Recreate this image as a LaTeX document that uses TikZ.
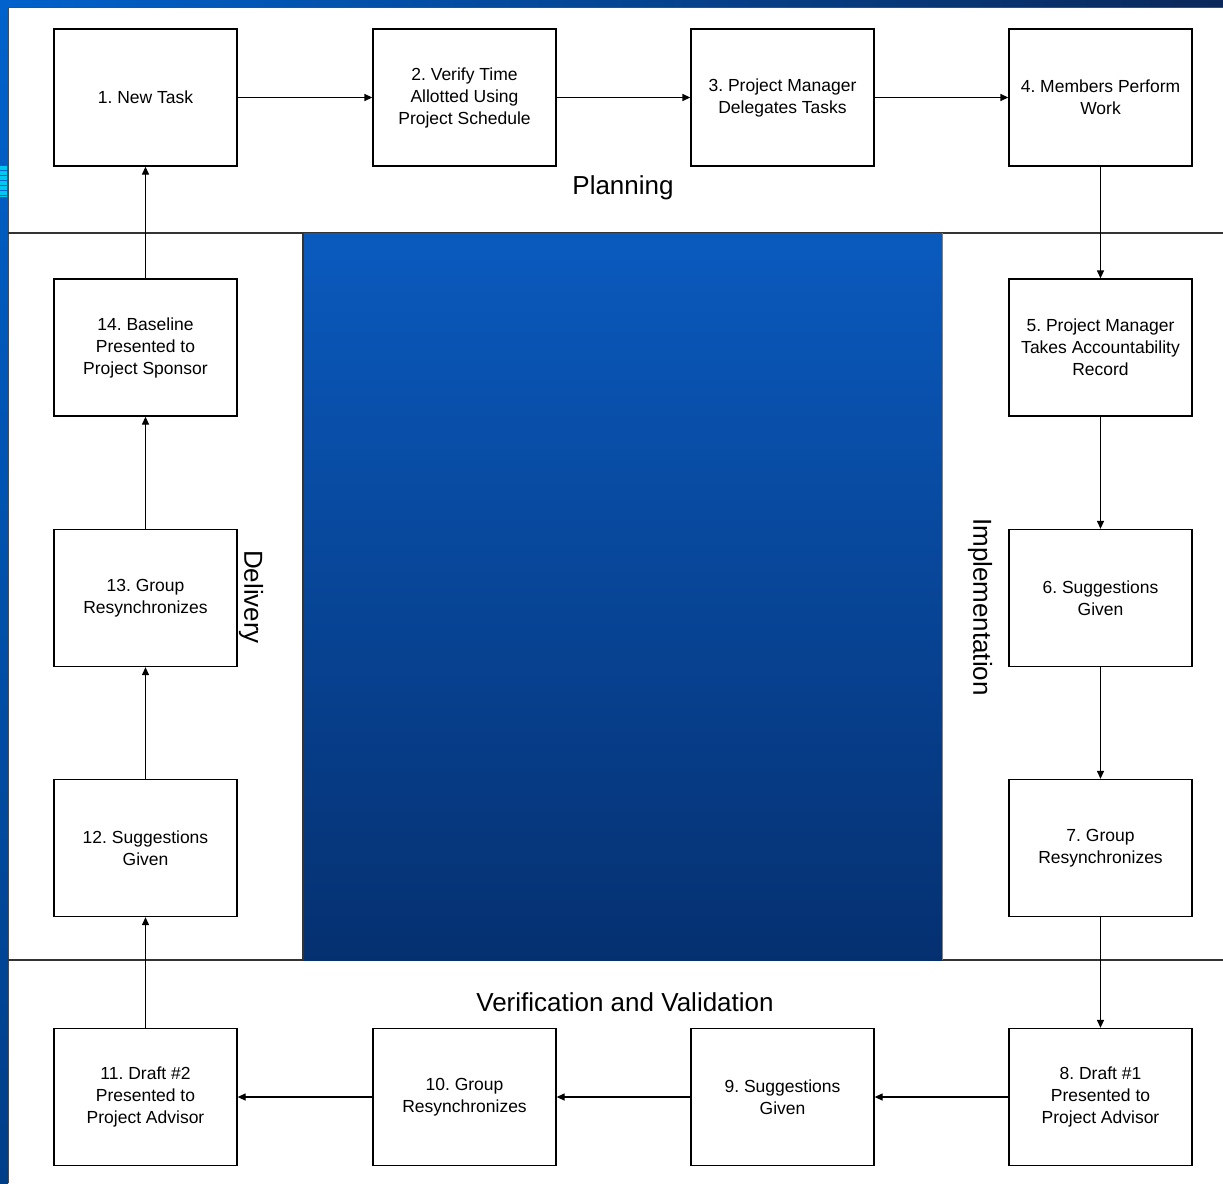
\documentclass[tikz,border=0pt]{standalone}
\usepackage{fontspec}
\setmainfont{Liberation Sans}
\usetikzlibrary{arrows.meta}
\frenchspacing
\definecolor{bluetop}{RGB}{0,98,204}
\definecolor{bluebot}{RGB}{0,62,136}
\definecolor{navy}{RGB}{10,40,90}
\definecolor{ctop}{RGB}{10,90,190}
\definecolor{cbot}{RGB}{5,48,112}
\definecolor{cyanstripe}{RGB}{0,200,240}
\tikzset{
  stepbox/.style={draw=black, line width=1.3pt, fill=white, minimum width=183pt, minimum height=137pt,
    align=center, font=\fontsize{17.5}{22}\selectfont, inner sep=0pt},
  flow/.style={draw=black, line width=1.3pt, -{Triangle[length=8pt,width=7pt]}},
  band/.style={font=\fontsize{26}{30}\selectfont}
}
\begin{document}
\begin{tikzpicture}[x=1pt,y=-1pt]
\useasboundingbox (0,0) rectangle (1223,1183);
% background
\shade[left color=bluetop, right color=navy] (0,0) rectangle (1223,8);
\shade[top color=bluetop, bottom color=bluebot] (0,0) rectangle (8,1183);
\fill[cyanstripe] (0,166) rectangle (7,197);
\foreach \yy in {170,175,180,185,190,195} \draw[bluetop, line width=1pt] (0,\yy) -- (7,\yy);
% white frame
\fill[white] (8,7) rectangle (1223,1183);
\draw[gray!60!black, line width=1.5pt] (8.5,1183) -- (8.5,7.5) -- (1223,7.5);
% band dividers
\draw[gray!40!black, line width=1.5pt] (8,233) -- (1223,233);
\draw[gray!40!black, line width=1.5pt] (8,960) -- (1223,960);
% center panel
\shade[top color=ctop, bottom color=cbot] (303,233) rectangle (942,960);
\draw[black!80, line width=1.2pt] (303,233) -- (303,960);
\draw[gray, line width=1pt] (942,233) -- (942,960);
% boxes
\node[stepbox] (n1) at (145.5,97.5) {1. New Task};
\node[stepbox] (n2) at (464.5,97.5) {2. Verify Time\\Allotted Using\\Project Schedule};
\node[stepbox] (n3) at (782.5,97.5) {3. Project Manager\\Delegates Tasks};
\node[stepbox] (n4) at (1100.5,97.5) {4. Members Perform\\Work};
\node[stepbox] (n5) at (1100.5,347.5) {5. Project Manager\\Takes Accountability\\Record};
\node[stepbox] (n6) at (1100.5,598) {6. Suggestions\\Given};
\node[stepbox] (n7) at (1100.5,848) {7. Group\\Resynchronizes};
\node[stepbox] (n8) at (1100.5,1097) {8. Draft \#1\\Presented to\\Project Advisor};
\node[stepbox] (n9) at (782.5,1097) {9. Suggestions\\Given};
\node[stepbox] (n10) at (464.5,1097) {10. Group\\Resynchronizes};
\node[stepbox] (n11) at (145.5,1097) {11. Draft \#2\\Presented to\\Project Advisor};
\node[stepbox] (n12) at (145.5,848) {12. Suggestions\\Given};
\node[stepbox] (n13) at (145.5,598) {13. Group\\Resynchronizes};
\node[stepbox] (n14) at (145.5,347.5) {14. Baseline\\Presented to\\Project Sponsor};
% band labels
\node[band] (lplan) at (623,188) {Planning};
\node[band] (lver) at (625,1002) {Verification and Validation};
\node[band, rotate=-90] (ldel) at (251,597) {Delivery};
\node[band, rotate=-90] (limp) at (980,607) {Implementation};
% connectors
\draw[flow] (n1) -- (n2);
\draw[flow] (n2) -- (n3);
\draw[flow] (n3) -- (n4);
\draw[flow] (n4) -- (n5);
\draw[flow] (n5) -- (n6);
\draw[flow] (n6) -- (n7);
\draw[flow] (n7) -- (n8);
\draw[flow] (n8) -- (n9);
\draw[flow] (n9) -- (n10);
\draw[flow] (n10) -- (n11);
\draw[flow] (n11) -- (n12);
\draw[flow] (n12) -- (n13);
\draw[flow] (n13) -- (n14);
\draw[flow] (n14) -- (n1);
\end{tikzpicture}
\end{document}
